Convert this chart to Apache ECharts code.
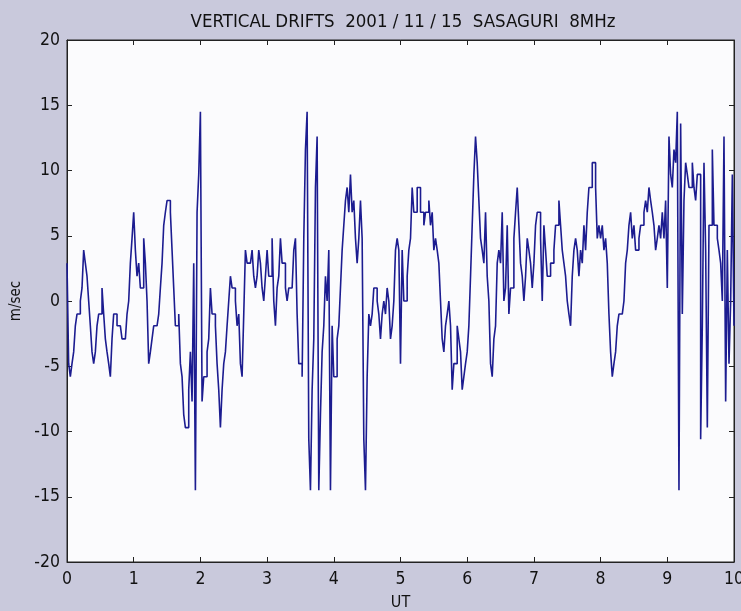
<!DOCTYPE html>
<html>
<head>
<meta charset="utf-8">
<script src="https://cdn.jsdelivr.net/npm/echarts@6/dist/echarts.min.js"></script>
<style>
html,body{margin:0;padding:0;background:#c9c9dc;}
#chart{width:741px;height:611px;}
</style>
</head>
<body>
<div id="chart"></div>
<script>
// Vertical drift (m/sec), sampled every 0.025 h, one array per UT hour
const SAMPLE_STEP = 0.025;
const hour0 = [2.9,-4.8,-5.8,-4.8,-3.9,-1.9,-1.0,-1.0,0,1.0, 3.9,2.9,1.9,0,-1.9,-3.9,-4.8,-3.9,-1.9,-1.0, -1.0,1.0,-1.0,-2.9,-3.9,-4.8,-5.8,-2.9,-1.0,-1.0, -1.9,-1.9,-1.9,-2.9,-2.9,-2.9,-1.0,0,2.9,4.8];
const hour1 = [6.8,3.9,1.9,2.9,1.0,1.0,4.8,2.9,0,-4.8, -3.9,-2.9,-1.9,-1.9,-1.9,-1.0,1.0,2.9,5.8,6.8, 7.7,7.7,6.8,3.9,1.0,-1.9,-1.9,-1.0,-4.8,-5.8, -8.7,-9.7,-9.7,-6.8,-3.9,-7.7,2.9,-14.5,6.8,9.7];
const hour2 = [14.5,-7.7,-5.8,-5.8,-3.9,-2.9,1.0,-1.0,-1.0,-1.9, -4.8,-6.8,-9.7,-6.8,-4.8,-3.9,-1.9,0,1.9,1.0, 1.0,0,-1.9,-1.0,-4.8,-5.8,-1.0,3.9,2.9,2.9, 2.9,3.9,1.9,1.0,1.9,3.9,2.9,1.0,0,1.9];
const hour3 = [3.9,1.9,1.9,4.8,0,-1.9,1.0,1.9,4.8,2.9, 2.9,1.0,0,1.0,1.0,1.0,3.9,4.8,-1.0,-4.8, -4.8,-5.8,4.8,11.6,14.5,-10.6,-14.5,-6.8,-2.9,8.7, 12.6,-14.5,-8.7,-3.9,-1.9,1.9,0,3.9,-14.5,-1.9];
const hour4 = [-5.8,-5.8,-2.9,-1.9,1.0,3.9,5.8,7.7,8.7,6.8, 9.7,6.8,7.7,4.8,2.9,4.8,7.7,4.8,-10.6,-14.5, -5.8,-1.0,-1.9,-1.0,1.0,1.0,0,-1.0,-2.9,-1.0, 0,-1.0,1.0,0,-2.9,-1.9,0,3.9,4.8,3.9];
const hour5 = [-4.8,3.9,0,0,1.9,3.9,4.8,8.7,6.8,6.8, 8.7,8.7,6.8,6.8,5.8,6.8,6.8,7.7,5.8,6.8, 3.9,4.8,3.9,2.9,0,-2.9,-3.9,-1.9,-1.0,0, -1.9,-6.8,-4.8,-4.8,-1.9,-2.9,-3.9,-6.8,-5.8,-4.8];
const hour6 = [-3.9,-1.9,1.9,5.8,9.7,12.6,10.6,7.7,4.8,3.9, 2.9,6.8,1.9,0,-4.8,-5.8,-2.9,-1.9,2.9,3.9, 2.9,6.8,0,1.0,5.8,-1.0,1.0,1.0,4.8,6.8, 8.7,5.8,2.9,1.9,0,1.9,4.8,3.9,2.9,1.0];
const hour7 = [2.9,5.8,6.8,6.8,4.8,0,5.8,3.9,1.9,1.9, 2.9,2.9,3.9,5.8,5.8,7.7,5.8,3.9,2.9,1.9, 0,-1.0,-1.9,1.9,3.9,4.8,3.9,1.9,3.9,2.9, 5.8,3.9,6.8,8.7,8.7,10.6,10.6,8.7,4.8,5.8];
const hour8 = [4.8,5.8,3.9,4.8,2.9,-1.0,-3.9,-5.8,-4.8,-3.9, -1.9,-1.0,-1.0,-1.0,0,2.9,3.9,5.8,6.8,4.8, 5.8,3.9,3.9,4.8,5.8,5.8,6.8,7.7,6.8,8.7, 7.7,6.8,5.8,3.9,4.8,5.8,4.8,6.8,4.8,7.7];
const hour9 = [1.0, 12.6,9.7,8.7,11.6,10.6,14.5,-14.5,13.6,-1.0,7.7, 10.6,9.7,8.7,8.7,10.6,8.7,7.7,9.7,9.7,-10.6, -1.9,10.6,3.9,-9.7,5.8,5.8,11.6,5.8,5.8,4.8, 3.9,2.9,0,12.6,-7.7,3.9,-4.8,0,9.7,-1.9];
const hours = [hour0,hour1,hour2,hour3,hour4,hour5,hour6,hour7,hour8,hour9];

const xTicks = [0,1,2,3,4,5,6,7,8,9,10];
const yTicks = [-20,-15,-10,-5,0,5,10,15,20];

const series = [];
hours.forEach((arr, h) => {
  arr.forEach((v, i) => series.push([+(h + i * SAMPLE_STEP).toFixed(3), v]));
});

const FONT = "'DejaVu Sans Condensed','Liberation Sans Narrow','Liberation Sans',sans-serif";
function axisBase() {
  return {
    axisLine: {show: true, onZero: false, lineStyle: {color: '#222', width: 1}},
    axisTick: {show: true, inside: true, length: 5, lineStyle: {color: '#222'}},
    splitLine: {show: false}
  };
}

const chart = echarts.init(document.getElementById('chart'), null, {renderer: 'canvas'});
chart.setOption({
  backgroundColor: '#c9c9dc',
  animation: false,
  title: {
    text: 'VERTICAL DRIFTS  2001 / 11 / 15  SASAGURI  8MHz',
    left: 398, top: 8, textAlign: 'center',
    textStyle: {fontFamily: FONT, fontSize: 18.5, fontWeight: 'normal', color: '#111'}
  },
  grid: {left: 67, right: 7, top: 40, bottom: 49, containLabel: false, outerBoundsMode: 'none',
         show: true, backgroundColor: '#fbfbfd', borderColor: '#222', borderWidth: 1},
  xAxis: [
    Object.assign(axisBase(), {
      type: 'value', min: xTicks[0], max: xTicks[xTicks.length - 1], interval: 1, position: 'bottom',
      name: 'UT', nameLocation: 'middle', nameGap: 33,
      nameTextStyle: {fontFamily: FONT, fontSize: 16, color: '#111'},
      axisLabel: {fontFamily: FONT, fontSize: 17.5, color: '#111', margin: 8}
    }),
    Object.assign(axisBase(), {
      type: 'value', min: xTicks[0], max: xTicks[xTicks.length - 1], interval: 1, position: 'top',
      axisLabel: {show: false}
    })
  ],
  yAxis: [
    Object.assign(axisBase(), {
      type: 'value', min: yTicks[0], max: yTicks[yTicks.length - 1], interval: 5, position: 'left',
      name: 'm/sec', nameLocation: 'middle', nameGap: 43, nameRotate: 90,
      nameTextStyle: {fontFamily: FONT, fontSize: 15, color: '#111'},
      axisLabel: {fontFamily: FONT, fontSize: 17.5, color: '#111', margin: 7}
    }),
    Object.assign(axisBase(), {
      type: 'value', min: yTicks[0], max: yTicks[yTicks.length - 1], interval: 5, position: 'right',
      axisLabel: {show: false}
    })
  ],
  series: [{
    type: 'line',
    step: 'end',
    data: series,
    showSymbol: false,
    symbol: 'none',
    connectNulls: false,
    lineStyle: {color: '#1c1c90', width: 1.6},
    xAxisIndex: 0, yAxisIndex: 0
  }]
});
</script>
</body>
</html>
